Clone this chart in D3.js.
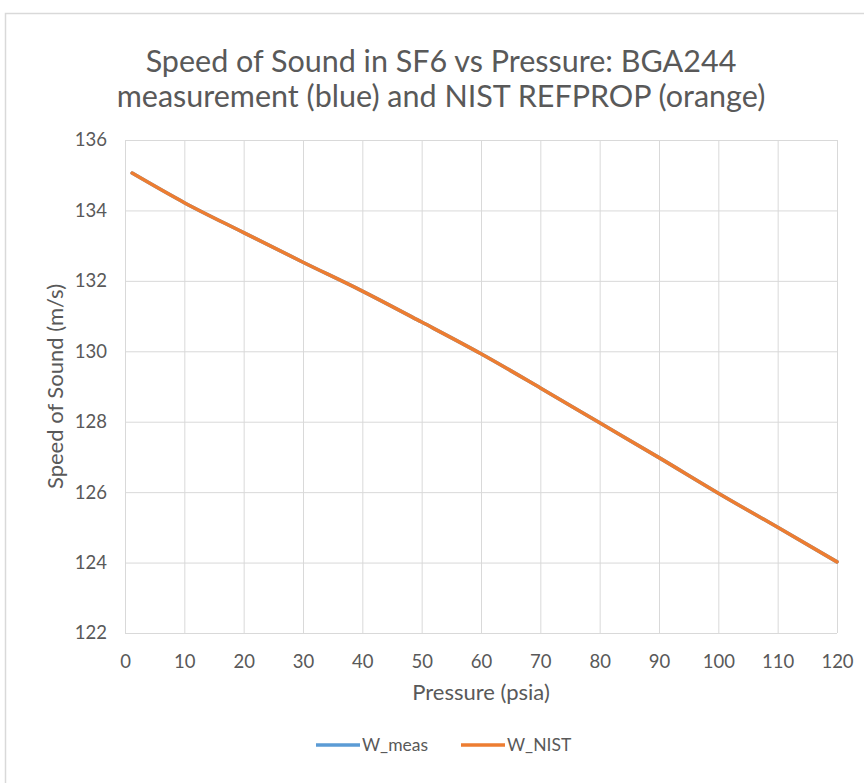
<!DOCTYPE html>
<html>
<head>
<meta charset="utf-8">
<script src="https://cdn.jsdelivr.net/npm/d3@7"></script>
<style>
  html, body { margin: 0; padding: 0; background: #fff; }
  svg { display: block; }
  text { font-family: Lato, "Open Sans", sans-serif; fill: #595959; }
</style>
</head>
<body>
<svg id="chart" width="864" height="783"></svg>
<script>
// ---- data ----
const pressure = [1.2, 10, 20, 30, 40, 50, 60, 70, 80, 90, 100, 110, 120];
const wMeas    = [135.06, 134.22, 133.37, 132.53, 131.71, 130.83, 129.93, 128.96, 127.97, 126.98, 125.97, 125.00, 124.02];
const wNist    = [135.06, 134.22, 133.37, 132.53, 131.71, 130.83, 129.93, 128.96, 127.97, 126.98, 125.97, 125.00, 124.02];
const xTicks = [0, 10, 20, 30, 40, 50, 60, 70, 80, 90, 100, 110, 120];
const yTicks = [122, 124, 126, 128, 130, 132, 134, 136];
const seriesNames = ["W_meas", "W_NIST"];
const seriesColors = ["#5B9BD5", "#ED7D31"];
const titleLines = ["Speed of Sound in SF6 vs Pressure: BGA244", "measurement (blue) and NIST REFPROP (orange)"];
const xTitle = "Pressure (psia)";
const yTitle = "Speed of Sound (m/s)";

const svg = d3.select("#chart");
const W = 864, H = 783;
const plot = { left: 125, right: 837, top: 140, bottom: 633 };

// outer chart border
svg.append("rect").attr("x", 5.5).attr("y", 13.5).attr("width", W + 20).attr("height", H + 20)
  .attr("fill", "none").attr("stroke", "#d9d9d9").attr("stroke-width", 1.5);

const x = d3.scaleLinear().domain([0, 120]).range([plot.left, plot.right]);
const y = d3.scaleLinear().domain([122, 136]).range([plot.bottom, plot.top]);

// gridlines
const gx = svg.append("g").attr("transform", `translate(0,${plot.bottom})`)
  .call(d3.axisBottom(x).tickValues(xTicks).tickSize(-(plot.bottom - plot.top)).tickFormat(""));
gx.select(".domain").remove();
gx.selectAll("line").attr("stroke", "#d9d9d9").attr("stroke-width", 1);

const gy = svg.append("g").attr("transform", `translate(${plot.left},0)`)
  .call(d3.axisLeft(y).tickValues(yTicks).tickSize(-(plot.right - plot.left)).tickFormat(""));
gy.select(".domain").remove();
gy.selectAll("line").attr("stroke", "#d9d9d9").attr("stroke-width", 1);

// tick labels
const xl = svg.append("g").attr("transform", `translate(0,${plot.bottom})`)
  .call(d3.axisBottom(x).tickValues(xTicks).tickSize(0).tickPadding(22));
xl.select(".domain").remove();
xl.selectAll("text").style("font-family", "Lato, sans-serif").attr("font-size", 18.5).attr("fill", "#595959");

const yl = svg.append("g").attr("transform", `translate(${plot.left},0)`)
  .call(d3.axisLeft(y).tickValues(yTicks).tickSize(0).tickPadding(18));
yl.select(".domain").remove();
yl.selectAll("text").style("font-family", "Lato, sans-serif").attr("font-size", 18.5).attr("fill", "#595959");

// lines
const lineGen = d3.line().x((d, i) => x(pressure[i])).y(d => y(d)).curve(d3.curveMonotoneX);
[wMeas, wNist].forEach((vals, k) => {
  svg.append("path").datum(vals).attr("d", lineGen)
    .attr("fill", "none").attr("stroke", seriesColors[k]).attr("stroke-width", 3.5)
    .attr("stroke-linecap", "round").attr("stroke-linejoin", "round");
});

// title
svg.append("text").attr("text-anchor", "middle")
  .attr("font-size", 30.5)
  .selectAll("tspan").data(titleLines).join("tspan")
  .attr("x", 441).attr("y", (d, i) => 72 + i * 35).text(d => d);

// axis titles
svg.append("text").attr("x", 481).attr("y", 700)
  .attr("text-anchor", "middle").attr("font-size", 22).text(xTitle);
svg.append("text").attr("transform", `translate(63,${(plot.top + plot.bottom) / 2}) rotate(-90)`)
  .attr("text-anchor", "middle").attr("font-size", 22).text(yTitle);

// legend
const legendX = [316, 461];
seriesNames.forEach((name, k) => {
  const g = svg.append("g").attr("transform", `translate(${legendX[k]},745)`);
  g.append("line").attr("x1", 0).attr("x2", 44).attr("y1", 0).attr("y2", 0)
    .attr("stroke", seriesColors[k]).attr("stroke-width", 3.5);
  g.append("text").attr("x", 46).attr("y", 6).attr("font-size", 17.5).text(name);
});
</script>
</body>
</html>
